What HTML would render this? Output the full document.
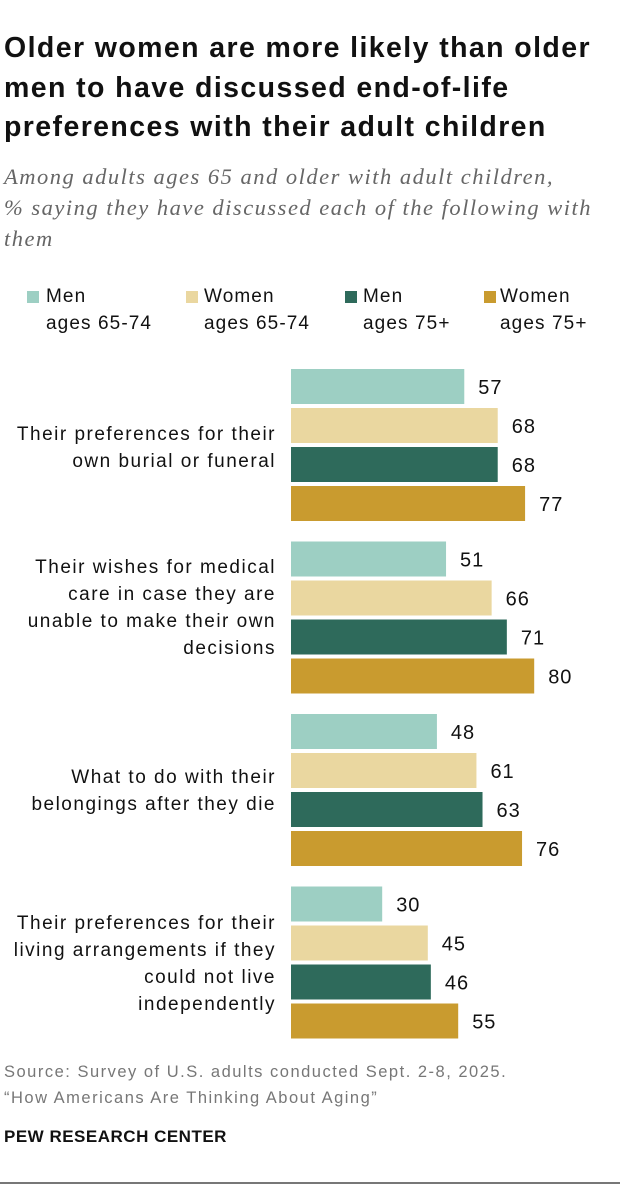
<!DOCTYPE html>
<html><head><meta charset="utf-8"><style>
body{margin:0;background:#fff;width:620px;height:1186px;position:relative;overflow:hidden;font-family:"Liberation Sans",sans-serif}
.t{position:absolute;white-space:nowrap}
#title{left:4px;top:29px;font-size:28.5px;font-weight:bold;line-height:39.5px;color:#111;letter-spacing:1.4px}
#sub{left:4px;top:161px;font-family:"Liberation Serif",serif;font-style:italic;font-size:22.5px;line-height:31px;color:#666;letter-spacing:1.5px}
.lg{font-size:19px;line-height:27px;color:#111;letter-spacing:1.1px}
.sq{position:absolute;width:12px;height:12px}
.cat{position:absolute;right:344px;text-align:right;font-size:19px;line-height:27px;color:#111;letter-spacing:1.5px;white-space:nowrap}
.src{left:4px;font-size:16.5px;color:#777;line-height:26px;letter-spacing:1.5px}
</style></head><body>
<div id="title" class="t">Older women are more likely than older<br>men to have discussed end-of-life<br>preferences with their adult children</div>
<div id="sub" class="t">Among adults ages 65 and older with adult children,<br>% saying they have discussed each of the following with<br>them</div>
<div>
<div class="sq" style="left:27px;top:291px;background:#9dcfc3"></div>
<div class="t lg" style="left:46px;top:283px">Men<br>ages 65-74</div>
<div class="sq" style="left:186px;top:291px;background:#ead7a0"></div>
<div class="t lg" style="left:204px;top:283px">Women<br>ages 65-74</div>
<div class="sq" style="left:345px;top:291px;background:#2e6a5b"></div>
<div class="t lg" style="left:363px;top:283px">Men<br>ages 75+</div>
<div class="sq" style="left:484px;top:291px;background:#c99b2f"></div>
<div class="t lg" style="left:500px;top:283px">Women<br>ages 75+</div>
</div>
<div class="cat" style="top:421px">Their preferences for their<br>own burial or funeral</div>
<div class="cat" style="top:554px">Their wishes for medical<br>care in case they are<br>unable to make their own<br>decisions</div>
<div class="cat" style="top:764px">What to do with their<br>belongings after they die</div>
<div class="cat" style="top:910px">Their preferences for their<br>living arrangements if they<br>could not live<br>independently</div>
<svg id="chart" width="620" height="1186" style="position:absolute;left:0;top:0"></svg>
<div class="t src" style="top:1059px">Source: Survey of U.S. adults conducted Sept. 2-8, 2025.<br>“How Americans Are Thinking About Aging”</div>
<div class="t" style="left:4px;top:1127px;font-size:17px;font-weight:bold;color:#111;letter-spacing:0.5px">PEW RESEARCH CENTER</div>
<div style="position:absolute;left:0;top:1182px;width:620px;height:2px;background:#777"></div>
<script>
const categories=["burial","medical","belongings","living"];
const men6574=[57,51,48,30];
const women6574=[68,66,61,45];
const men75=[68,71,63,46];
const women75=[77,80,76,55];
const seriesNames=["men-65-74","women-65-74","men-75","women-75"];
const series=[men6574,women6574,men75,women75];
const colors=["#9dcfc3","#ead7a0","#2e6a5b","#c99b2f"];
const x0=291,k=3.04;
function xs(v){return v*k;}
function ys(g,s){return 369+g*172.5+s*39;}
const svg=document.getElementById('chart');
const ns="http://www.w3.org/2000/svg";
categories.forEach((c,g)=>{series.forEach((arr,s)=>{
 const r=document.createElementNS(ns,'rect');
 r.setAttribute('x',x0);r.setAttribute('y',ys(g,s));
 r.setAttribute('width',xs(arr[g]));r.setAttribute('height',35);
 r.setAttribute('fill',colors[s]);
 
 
 svg.appendChild(r);
 const t=document.createElementNS(ns,'text');
 t.setAttribute('x',x0+xs(arr[g])+14);t.setAttribute('y',ys(g,s)+25);
 t.setAttribute('font-size','20');t.setAttribute('fill','#111');
 t.setAttribute('letter-spacing','1');
 t.setAttribute('font-family','Liberation Sans, sans-serif');
 t.textContent=arr[g];
 
 
 svg.appendChild(t);
});});
</script>
</body></html>
